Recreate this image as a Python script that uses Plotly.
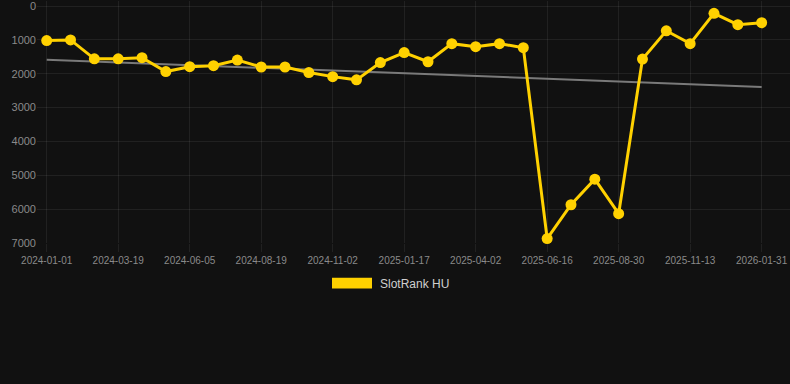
import plotly.graph_objects as go

dates = [
    "2024-01-01", "2024-01-27", "2024-02-22", "2024-03-19", "2024-04-14", "2024-05-10",
    "2024-06-05", "2024-06-30", "2024-07-25", "2024-08-19", "2024-09-13", "2024-10-08",
    "2024-11-02", "2024-11-27", "2024-12-23", "2025-01-17", "2025-02-11", "2025-03-08",
    "2025-04-02", "2025-04-27", "2025-05-22", "2025-06-16", "2025-07-11", "2025-08-05",
    "2025-08-30", "2025-09-24", "2025-10-19", "2025-11-13", "2025-12-09", "2026-01-05",
    "2026-01-31",
]
rank = [
    1020, 1000, 1560, 1560, 1525, 1935, 1790, 1760, 1595, 1800, 1800,
    1965, 2085, 2180, 1670, 1375, 1645, 1110, 1200, 1110, 1230,
    6870, 5870, 5115, 6135, 1565, 730, 1110, 215, 550, 490,
]
trend_x = ["2024-01-01", "2026-01-31"]
trend_y = [1584, 2389]
tick_dates = dates[::3]
y_ticks = [0, 1000, 2000, 3000, 4000, 5000, 6000, 7000]

GOLD = "#FFD100"
GRID = "rgba(255,255,255,0.07)"
TXT = "#8a8a8a"

fig = go.Figure()
fig.add_trace(go.Scatter(
    x=trend_x, y=trend_y, mode="lines",
    line=dict(color="#7a7a7a", width=2), showlegend=False, hoverinfo="skip",
))
fig.add_trace(go.Scatter(
    x=dates, y=rank, mode="lines+markers", name="SlotRank HU",
    line=dict(color=GOLD, width=3),
    marker=dict(color=GOLD, size=11),
    showlegend=False, cliponaxis=False,
))

W, H = 790, 384
L, R = 37, 0
# y pixel positions of 0 and 7000 in the reference
Y0_PX, Y7_PX = 6.0, 243.3
YTOP, YBOT = -150.0, 7000.5
per = (Y7_PX - Y0_PX) / 7000.0
T = max(0.0, Y0_PX - (0 - YTOP) * per)
B = H - (Y7_PX + (YBOT - 7000) * per)
plot_w = W - L - R
plot_h = H - T - B

def px_x(p):
    return (p - L) / plot_w

def px_y(p):
    return (H - B - p) / plot_h

fig.add_shape(type="rect", xref="paper", yref="paper",
              x0=px_x(332), x1=px_x(372), y0=px_y(289), y1=px_y(278),
              fillcolor=GOLD, line=dict(width=0))
fig.add_annotation(xref="paper", yref="paper", x=px_x(378), y=px_y(284),
                   xanchor="left", yanchor="middle", showarrow=False,
                   text="SlotRank HU", font=dict(size=12, color="#cfcfcf"))

fig.update_layout(
    width=W, height=H,
    margin=dict(l=L, r=R, t=T, b=B, pad=0),
    paper_bgcolor="#111111", plot_bgcolor="#111111",
    font=dict(family="Liberation Sans, Arial, sans-serif", color=TXT),
    showlegend=False,
)
fig.update_xaxes(
    type="category", categoryorder="array", categoryarray=dates,
    range=[-0.407, 31.19],
    tickmode="array", tickvals=tick_dates, ticktext=tick_dates,
    showgrid=True, gridcolor=GRID, gridwidth=1,
    ticks="outside", ticklen=8, tickcolor=GRID,
    tickfont=dict(size=10, color=TXT),
    ticklabeloverflow="allow",
    showline=False, zeroline=False,
)
fig.update_yaxes(
    range=[YBOT, YTOP], tickmode="array", tickvals=y_ticks,
    showgrid=True, gridcolor=GRID, gridwidth=1,
    tickfont=dict(size=11, color=TXT),
    ticklabeloverflow="allow",
    showline=False, zeroline=False,
)

fig.write_html(
    "out.html",
    config={"displayModeBar": False},
    post_script="document.body.style.margin='0';document.body.style.overflow='hidden';",
)
